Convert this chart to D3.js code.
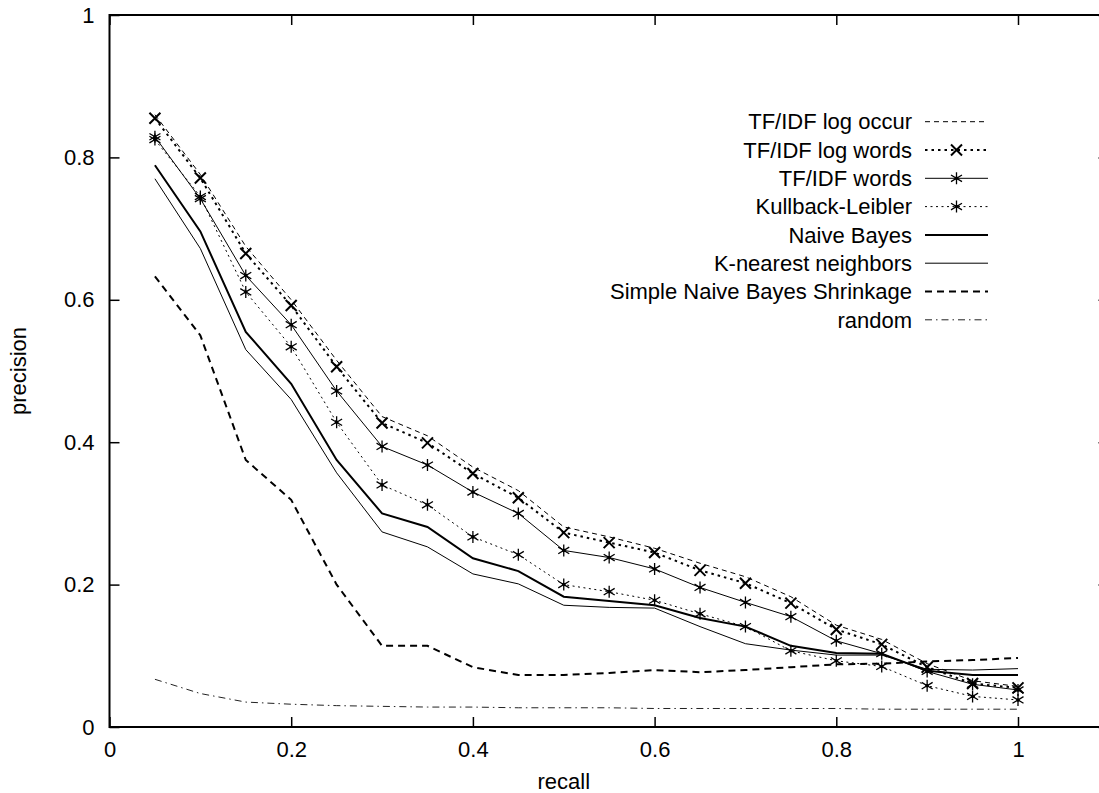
<!DOCTYPE html>
<html>
<head>
<meta charset="utf-8">
<script src="https://cdn.jsdelivr.net/npm/d3@7"></script>
<style>
  html, body { margin: 0; padding: 0; background: #fff; }
  svg { display: block; font-family: "Liberation Sans", Arial, Helvetica, sans-serif; }
</style>
</head>
<body>
<svg id="chart" width="1099" height="793"></svg>
<script>
// ---- data ----
const recall = [0.05,0.1,0.15,0.2,0.25,0.3,0.35,0.4,0.45,0.5,0.55,0.6,0.65,0.7,0.75,0.8,0.85,0.9,0.95,1.0];
const tfidfLogOccur = [0.860,0.776,0.675,0.600,0.515,0.436,0.409,0.365,0.332,0.281,0.267,0.251,0.230,0.211,0.183,0.143,0.123,0.089,0.065,0.057];
const tfidfLogWords = [0.855,0.771,0.665,0.592,0.506,0.427,0.399,0.356,0.322,0.273,0.259,0.245,0.220,0.202,0.174,0.137,0.116,0.084,0.061,0.055];
const tfidfWords    = [0.829,0.742,0.634,0.565,0.472,0.394,0.368,0.330,0.300,0.248,0.238,0.222,0.196,0.175,0.155,0.121,0.103,0.078,0.060,0.052];
const kullback      = [0.825,0.745,0.611,0.534,0.428,0.340,0.312,0.267,0.242,0.200,0.190,0.178,0.159,0.141,0.107,0.093,0.085,0.058,0.043,0.038];
const naiveBayes    = [0.789,0.696,0.555,0.482,0.375,0.300,0.281,0.237,0.219,0.183,0.177,0.171,0.153,0.141,0.114,0.104,0.103,0.079,0.073,0.073];
const knn           = [0.770,0.672,0.530,0.460,0.357,0.274,0.253,0.215,0.201,0.171,0.168,0.167,0.141,0.117,0.108,0.101,0.101,0.081,0.080,0.082];
const shrinkage     = [0.633,0.550,0.375,0.319,0.200,0.114,0.114,0.084,0.073,0.073,0.076,0.080,0.077,0.080,0.084,0.088,0.089,0.092,0.094,0.097];
const randomPR      = [0.067,0.047,0.035,0.032,0.030,0.029,0.028,0.028,0.027,0.027,0.027,0.026,0.026,0.026,0.026,0.026,0.025,0.025,0.025,0.025];

const xTicks = [0,0.2,0.4,0.6,0.8,1];
const xTickLabels = ["0","0.2","0.4","0.6","0.8","1"];
const yTicks = [0,0.2,0.4,0.6,0.8,1];
const yTickLabels = ["0","0.2","0.4","0.6","0.8","1"];
const seriesNames = ["TF/IDF log occur","TF/IDF log words","TF/IDF words","Kullback-Leibler","Naive Bayes","K-nearest neighbors","Simple Naive Bayes Shrinkage","random"];
const xTitle = "recall";
const yTitle = "precision";

// ---- styles ----
const styles = [
  {w:1,   dash:"5,4",        marker:null,  color:"#000"},
  {w:2,   dash:"2.5,4",      marker:"x",   color:"#000"},
  {w:1,   dash:null,         marker:"ast", color:"#000"},
  {w:1,   dash:"2,3.5",      marker:"ast", color:"#000"},
  {w:2,   dash:null,         marker:null,  color:"#000"},
  {w:1,   dash:null,         marker:null,  color:"#000"},
  {w:2,   dash:"7,5",        marker:null,  color:"#000"},
  {w:1,   dash:"7,4,1.5,4",  marker:null,  color:"#222"}
];
const allSeries = [tfidfLogOccur, tfidfLogWords, tfidfWords, kullback, naiveBayes, knn, shrinkage, randomPR];

const FONT = 22;
const svg = d3.select("#chart");
const mLeft = 109.5, xOneAt = 1018, mTop = 15, mBottom = 727;
const x = d3.scaleLinear().domain([0,1]).range([mLeft, xOneAt]);
const xMax = x.invert(1108.5);
x.domain([0, xMax]).range([mLeft, 1108.5]);
const y = d3.scaleLinear().domain([0,1]).range([mBottom, mTop]);

// axes
const gB = svg.append("g").attr("transform",`translate(0,${mBottom})`)
  .call(d3.axisBottom(x).tickValues(xTicks).tickFormat((d,i)=>xTickLabels[i]).tickSize(-10).tickPadding(14));
const gL = svg.append("g").attr("transform",`translate(${mLeft},0)`)
  .call(d3.axisLeft(y).tickValues(yTicks).tickFormat((d,i)=>yTickLabels[i]).tickSize(-10).tickPadding(15));
const gT = svg.append("g").attr("transform",`translate(0,${mTop})`)
  .call(d3.axisTop(x).tickValues(xTicks).tickFormat("").tickSize(-10));
const gR = svg.append("g").attr("transform",`translate(${x(xMax)},0)`)
  .call(d3.axisRight(y).tickValues(yTicks).tickFormat("").tickSize(-10));
[gB,gL,gT,gR].forEach(g=>{
  g.select(".domain").remove();
  g.selectAll(".tick line").attr("stroke","#000").attr("stroke-width",1.5);
  g.selectAll("text").attr("fill","#000").style("font-size",FONT+"px").style("font-family","'Liberation Sans', Arial, sans-serif");
});
// frame
svg.append("rect").attr("x",mLeft).attr("y",mTop).attr("width",x(xMax)-mLeft).attr("height",mBottom-mTop)
  .attr("fill","none").attr("stroke","#000").attr("stroke-width",2);

// titles
svg.append("text").attr("x",x(0.5)).attr("y",789).attr("text-anchor","middle")
  .style("font-size",FONT+"px").text(xTitle);
svg.append("text").attr("transform",`translate(26,${y(0.5)}) rotate(-90)`).attr("text-anchor","middle")
  .style("font-size",FONT+"px").text(yTitle);

// lines
const line = d3.line().x((d,i)=>x(recall[i])).y(d=>y(d));
const plot = svg.append("g");
function drawMarker(g, type, cx, cy, s) {
  const r = 5.5;
  if (type === "x") {
    g.append("path").attr("d",`M${cx-r},${cy-r}L${cx+r},${cy+r}M${cx-r},${cy+r}L${cx+r},${cy-r}`)
      .attr("stroke",s.color).attr("stroke-width",2).attr("fill","none");
  } else if (type === "ast") {
    g.append("path").attr("d",`M${cx},${cy-r-0.5}L${cx},${cy+r+0.5}M${cx-r},${cy-r*0.6}L${cx+r},${cy+r*0.6}M${cx-r},${cy+r*0.6}L${cx+r},${cy-r*0.6}`)
      .attr("stroke",s.color).attr("stroke-width",1.3).attr("fill","none");
    g.append("circle").attr("cx",cx).attr("cy",cy).attr("r",1.8).attr("fill",s.color);
  }
}
allSeries.forEach((data, k) => {
  const s = styles[k];
  plot.append("path").datum(data).attr("d", line).attr("fill","none")
    .attr("stroke", s.color).attr("stroke-width", s.w)
    .attr("stroke-dasharray", s.dash).attr("stroke-linejoin","miter");
  if (s.marker) {
    data.forEach((v,i)=> drawMarker(plot, s.marker, x(recall[i]), y(v), s));
  }
});

// legend
const legTextX = 912, legX1 = 925, legX2 = 988, legY0 = 121.7, legStep = 28.3;
const leg = svg.append("g");
seriesNames.forEach((name,k)=>{
  const s = styles[k];
  const ly = legY0 + k*legStep;
  leg.append("text").attr("x",legTextX).attr("y",ly).attr("dy","0.35em").attr("text-anchor","end")
    .style("font-size",FONT+"px").text(name);
  leg.append("line").attr("x1",legX1).attr("x2",legX2).attr("y1",ly).attr("y2",ly)
    .attr("stroke",s.color).attr("stroke-width",s.w).attr("stroke-dasharray",s.dash);
  if (s.marker) drawMarker(leg, s.marker, (legX1+legX2)/2, ly, s);
});
</script>
</body>
</html>
